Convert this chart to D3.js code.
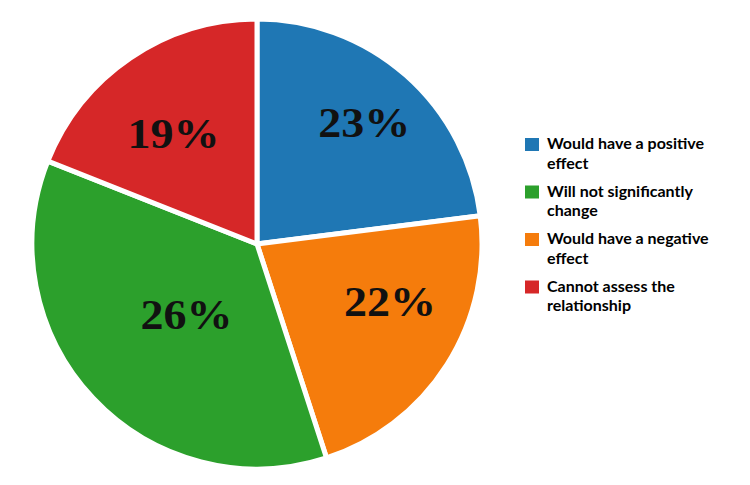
<!DOCTYPE html>
<html>
<head>
<meta charset="utf-8">
<script src="https://cdn.jsdelivr.net/npm/d3@7"></script>
<style>
  body { margin: 0; background: #fff; }
</style>
</head>
<body>
<div id="chart"></div>
<script>
// data: slice sizes, printed labels as shown
var categories = ["Would have a positive effect", "Would have a negative effect",
                  "Will not significantly change", "Cannot assess the relationship"];
var shares = [23, 22, 36, 19];
var labels = ["23%", "22%", "26%", "19%"];
var colors = ["#1f77b4", "#f57c0c", "#2ca02c", "#d62728"];

// legend order differs from slice order
var legendOrder = [0, 2, 1, 3];
var legendLines = [["Would have a positive", "effect"],
                   ["Will not significantly", "change"],
                   ["Would have a negative", "effect"],
                   ["Cannot assess the", "relationship"]];

var width = 750;
var height = 485;

var svg = d3.select("#chart")
  .append("svg")
    .attr("width", width)
    .attr("height", height);

var cx = 257, cy = 244, radius = 225;

var pie = d3.pie().sort(null).value(function (d) { return d; });
var arcs = pie(shares);

var arc = d3.arc().innerRadius(0).outerRadius(radius);

var g = svg.append("g").attr("transform", "translate(" + cx + "," + cy + ")");

g.selectAll("path")
  .data(arcs)
  .enter()
  .append("path")
    .attr("d", arc)
    .attr("fill", function (d, i) { return colors[i]; })
    .attr("stroke", "#fff")
    .attr("stroke-width", 5)
    .attr("stroke-linejoin", "miter");

// label placement per slice (layout only): distance from centre, angle nudge in degrees
var labelRadius = [162, 145, 100, 138];
var labelNudge = [0, -9, -2, -3];

g.selectAll("text")
  .data(arcs)
  .enter()
  .append("text")
    .attr("transform", function (d, i) {
      var a = (d.startAngle + d.endAngle) / 2 + labelNudge[i] * Math.PI / 180;
      var x = Math.sin(a) * labelRadius[i];
      var y = -Math.cos(a) * labelRadius[i];
      return "translate(" + x + "," + y + ")";
    })
    .attr("text-anchor", "middle")
    .attr("dy", "0.34em")
    .attr("font-family", "Liberation Serif, serif")
    .attr("font-weight", "bold")
    .attr("font-size", 42)
    .attr("textLength", 92)
    .attr("lengthAdjust", "spacingAndGlyphs")
    .attr("fill", "#111")
    .text(function (d, i) { return labels[i]; });

// legend
var legend = svg.append("g");

var item = legend.selectAll("g")
  .data(legendOrder)
  .enter()
  .append("g")
    .attr("transform", function (d, i) { return "translate(525," + (149 + i * 47.5) + ")"; });

item.append("rect")
  .attr("x", 0)
  .attr("y", -11)
  .attr("width", 14)
  .attr("height", 13)
  .attr("fill", function (d) { return colors[d]; });

item.each(function (d, i) {
  var t = d3.select(this).append("text")
    .attr("font-family", "Lato, sans-serif")
    .attr("font-weight", "bold")
    .attr("font-size", 16)
    .attr("fill", "#000");
  legendLines[i].forEach(function (line, j) {
    t.append("tspan")
      .attr("x", 22)
      .attr("y", j * 19.5)
      .text(line);
  });
});
</script>
</body>
</html>
